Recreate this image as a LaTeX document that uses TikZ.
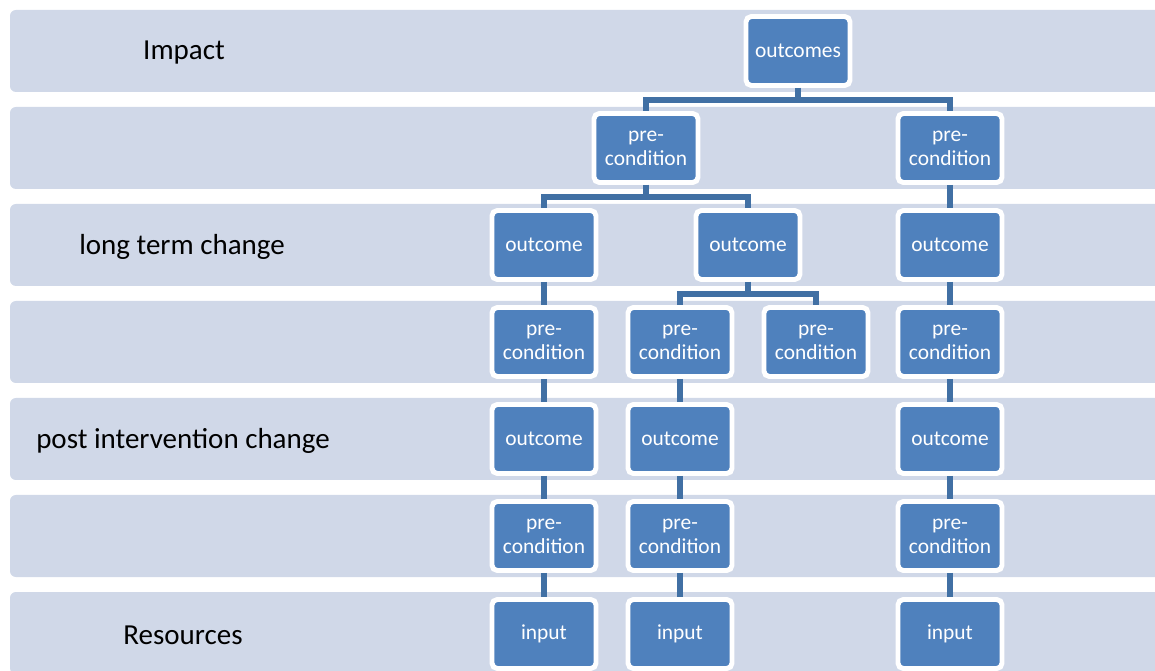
\documentclass[tikz,border=0pt]{standalone}
\usepackage{fontspec}
\setmainfont{Carlito}
\usetikzlibrary{positioning}
\definecolor{bandcol}{RGB}{208,216,232}
\definecolor{boxcol}{RGB}{79,129,189}
\definecolor{linkcol}{RGB}{65,112,164}

\begin{document}
\begin{tikzpicture}[
    x=0.02cm, y=-0.02cm,
    band/.style={fill=bandcol, rounded corners=3.4pt},
    box/.style={rectangle, rounded corners=3pt, fill=boxcol, draw=white, line width=2.8pt, minimum width=2.08cm, minimum height=1.38cm, inner sep=0pt, align=center, text=white, font=\fontsize{12.2}{13.8}\selectfont},
    link/.style={draw=linkcol, line width=3.2pt},
    lbl/.style={font=\fontsize{16.5}{19}\selectfont}
]
    \useasboundingbox (0,0) rectangle (1155,671);
    \begin{scope}
        \clip (0,0) rectangle (1155,671);
        \foreach \i in {0,...,6}
            \fill[band] (10,10+97*\i) rectangle (1190,92+97*\i);
    \end{scope}

    % row labels
    \node[lbl] (impact) at (184,53) {Impact};
    \node[lbl] (longterm) at (182,247) {long term change};
    \node[lbl] (postint) at (183,441) {post intervention change};
    \node[lbl] (resources) at (183,635) {Resources};

    % boxes
    \node[box] (top) at (798,51) {outcomes};
    \node[box] (pc1) at (646,148) {pre-\\condition};
    \node[box] (pc2) at (950,148) {pre-\\condition};
    \node[box] (oc1) at (544,245) {outcome};
    \node[box] (oc2) at (748,245) {outcome};
    \node[box] (oc3) at (950,245) {outcome};
    \node[box] (pc3) at (544,342) {pre-\\condition};
    \node[box] (pc4) at (680,342) {pre-\\condition};
    \node[box] (pc5) at (816,342) {pre-\\condition};
    \node[box] (pc6) at (950,342) {pre-\\condition};
    \node[box] (oc4) at (544,439) {outcome};
    \node[box] (oc5) at (680,439) {outcome};
    \node[box] (oc6) at (950,439) {outcome};
    \node[box] (pc7) at (544,536) {pre-\\condition};
    \node[box] (pc8) at (680,536) {pre-\\condition};
    \node[box] (pc9) at (950,536) {pre-\\condition};
    \node[box] (in1) at (544,634) {input};
    \node[box] (in2) at (680,634) {input};
    \node[box] (in3) at (950,634) {input};

    % links
    \draw[link] (top.south) -- ++(0,12) -| (pc1.north);
    \draw[link] (top.south) -- ++(0,12) -| (pc2.north);
    \draw[link] (pc1.south) -- ++(0,12) -| (oc1.north);
    \draw[link] (pc1.south) -- ++(0,12) -| (oc2.north);
    \draw[link] (oc2.south) -- ++(0,12) -| (pc4.north);
    \draw[link] (oc2.south) -- ++(0,12) -| (pc5.north);
    \draw[link] (pc2) -- (oc3);
    \draw[link] (oc1) -- (pc3) (pc3) -- (oc4) (oc4) -- (pc7) (pc7) -- (in1);
    \draw[link] (pc4) -- (oc5) (oc5) -- (pc8) (pc8) -- (in2);
    \draw[link] (oc3) -- (pc6) (pc6) -- (oc6) (oc6) -- (pc9) (pc9) -- (in3);
\end{tikzpicture}
\end{document}
